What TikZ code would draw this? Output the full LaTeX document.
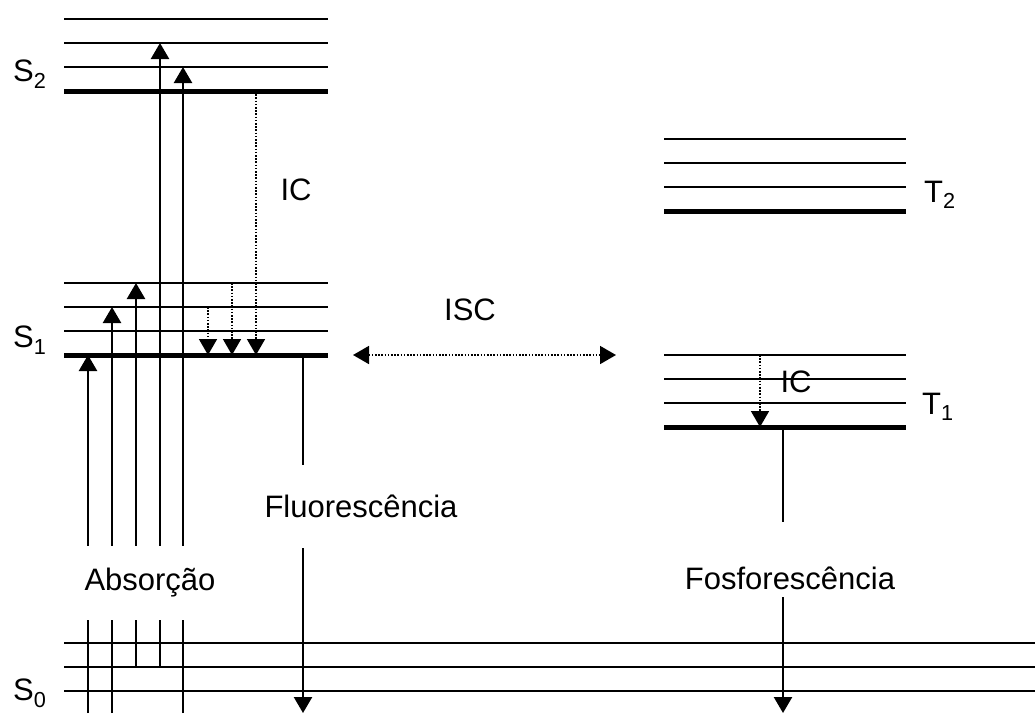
\documentclass[tikz,border=0pt]{standalone}
\usepackage{fontspec}
\setmainfont{Liberation Sans}
\usetikzlibrary{arrows.meta}
\begin{document}
\begin{tikzpicture}[x=1pt,y=-1pt,
  lvl/.style={line width=1.5pt},
  ground/.style={line width=5pt},
  tipS/.tip={Triangle[length=16pt,width=18pt]},
  tr/.style={line width=2.4pt,-tipS},
  plain/.style={line width=2.4pt},
  ic/.style={line width=1.7pt,dash pattern=on 1.6pt off 1.6pt,-tipS},
  isc/.style={line width=1.7pt,dash pattern=on 1.6pt off 1.6pt,tipS-tipS},
  lbl/.style={font=\fontsize{31}{37}\selectfont, inner sep=0pt},
  gaplbl/.style={lbl, fill=white}
]
\useasboundingbox (0,0) rectangle (1035,713);
% S2 levels
\foreach \y in {19,43,67} \draw[lvl] (64,\y) -- (328,\y);
\draw[ground] (64,91) -- (328,91);
% S1 levels
\foreach \y in {283,307,331} \draw[lvl] (64,\y) -- (328,\y);
\draw[ground] (64,355) -- (328,355);
% S0 levels
\foreach \y in {643,667,691} \draw[lvl] (64,\y) -- (1035,\y);
% T2 levels
\foreach \y in {139,163,187} \draw[lvl] (664,\y) -- (906,\y);
\draw[ground] (664,211) -- (906,211);
% T1 levels
\foreach \y in {355,379,403} \draw[lvl] (664,\y) -- (906,\y);
\draw[ground] (664,427) -- (906,427);

% absorption endpoints
\coordinate (a1s) at (88,713);  \coordinate (a1e) at (88,355);
\coordinate (a2s) at (112,713); \coordinate (a2e) at (112,307);
\coordinate (a3s) at (136,667); \coordinate (a3e) at (136,283);
\coordinate (a4s) at (160,667); \coordinate (a4e) at (160,43);
\coordinate (a5s) at (183,713); \coordinate (a5e) at (183,67);
\draw[tr] (a1s) -- (a1e);
\draw[tr] (a2s) -- (a2e);
\draw[tr] (a3s) -- (a3e);
\draw[tr] (a4s) -- (a4e);
\draw[tr] (a5s) -- (a5e);

% internal conversion S
\coordinate (i1s) at (208,307); \coordinate (i1e) at (208,355);
\coordinate (i2s) at (232,283); \coordinate (i2e) at (232,355);
\coordinate (i3s) at (256,91);  \coordinate (i3e) at (256,355);
\draw[ic] (i1s) -- (i1e);
\draw[ic] (i2s) -- (i2e);
\draw[ic] (i3s) -- (i3e);

% internal conversion T
\coordinate (t1s) at (760,355); \coordinate (t1e) at (760,427);
\draw[ic] (t1s) -- (t1e);

% fluorescence
\coordinate (fs) at (303,355); \coordinate (fe) at (303,713);
\draw[tr] (fs) -- (fe);
% phosphorescence (with gap around its label)
\coordinate (ps) at (783,427); \coordinate (pg1) at (783,522);
\coordinate (pg2) at (783,597); \coordinate (pe) at (783,713);
\draw[plain] (ps) -- (pg1);
\draw[tr] (pg2) -- (pe);

% ISC
\coordinate (iscL) at (353,355); \coordinate (iscR) at (616,355);
\draw[isc] (iscL) -- (iscR);

% labels
\node[gaplbl, minimum height=74pt] (abs) at (150,583) {Absorção};
\node[gaplbl, minimum height=83pt] (flu) at (361,506) {Fluorescência};
\node[lbl] (fos) at (790,578) {Fosforescência};
\node[lbl] (icS) at (296,190) {IC};
\node[lbl] (icT) at (796,382) {IC};
\node[lbl] (iscl) at (470,310) {ISC};
\node[lbl, anchor=west] (s2) at (13,74) {S\textsubscript{2}};
\node[lbl, anchor=west] (s1) at (13,340) {S\textsubscript{1}};
\node[lbl, anchor=west] (s0) at (13,693) {S\textsubscript{0}};
\node[lbl, anchor=west] (t2) at (924,195) {T\textsubscript{2}};
\node[lbl, anchor=west] (t1) at (922,407) {T\textsubscript{1}};
\end{tikzpicture}
\end{document}
